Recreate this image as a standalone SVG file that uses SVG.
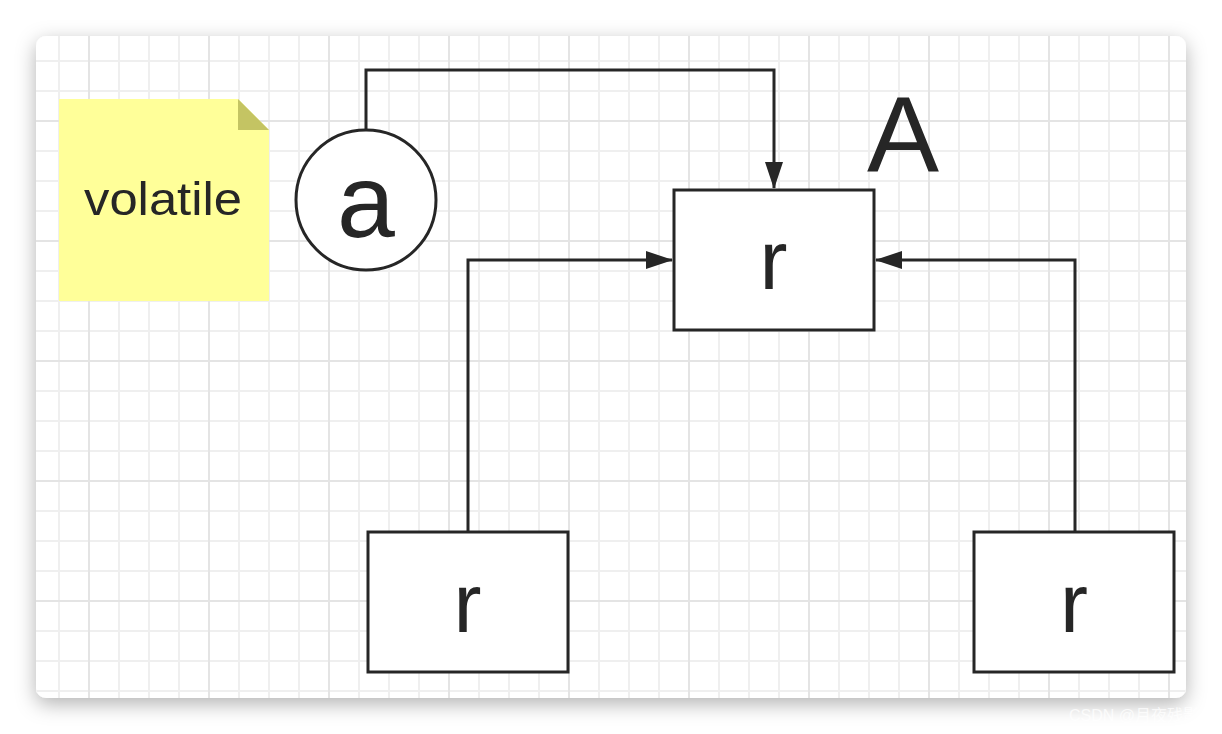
<svg xmlns="http://www.w3.org/2000/svg" width="1222" height="734" viewBox="0 0 1222 734">
  <defs>
    <filter id="shadow" x="-10%" y="-10%" width="120%" height="130%">
      <feDropShadow dx="0" dy="6" stdDeviation="10" flood-color="#000" flood-opacity="0.3"/>
    </filter>
    <clipPath id="cardClip">
      <rect x="36" y="36" width="1150" height="662" rx="10"/>
    </clipPath>
    <pattern id="minor" x="44" y="-14" width="30" height="30" patternUnits="userSpaceOnUse">
      <path d="M15 0 V30 M0 15 H30" fill="none" stroke="#efefef" stroke-width="2"/>
    </pattern>
    <pattern id="major" x="29" y="61" width="120" height="120" patternUnits="userSpaceOnUse">
      <path d="M60 0 V120 M0 60 H120" fill="none" stroke="#e4e4e4" stroke-width="2"/>
    </pattern>
    <marker id="arrow" markerUnits="userSpaceOnUse" markerWidth="28" markerHeight="20" viewBox="0 0 28 20" refX="26" refY="10" orient="auto">
      <path d="M0 1 L27 10 L0 19 Z" fill="#262626"/>
    </marker>
    <style>
      .box { fill: #ffffff; stroke: #262626; stroke-width: 3; }
      .conn { fill: none; stroke: #262626; stroke-width: 3; }
      .lbl { font-family: "Liberation Sans", Arial, sans-serif; fill: #262626; text-anchor: middle; }
      .r { font-size: 84px; }
    </style>
  </defs>

  <rect width="1222" height="734" fill="#ffffff"/>
  <rect x="36" y="36" width="1150" height="662" rx="10" fill="#ffffff" filter="url(#shadow)"/>
  <g clip-path="url(#cardClip)">
    <rect x="36" y="36" width="1150" height="662" fill="url(#minor)"/>
    <rect x="36" y="36" width="1150" height="662" fill="url(#major)"/>
  </g>

  <g id="note">
    <path d="M59 99 H238 L269 130 V301 H59 Z" fill="#ffff99"/>
    <path d="M238 99 L269 130 H238 Z" fill="#c4c463"/>
    <text class="lbl" x="163" y="215" font-size="47" textLength="158" lengthAdjust="spacingAndGlyphs">volatile</text>
  </g>

  <g id="connectors">
    <path class="conn" d="M366 130 V70 H774 V188" marker-end="url(#arrow)"/>
    <path class="conn" d="M468 532 V260 H672" marker-end="url(#arrow)"/>
    <path class="conn" d="M1075 532 V260 H876" marker-end="url(#arrow)"/>
  </g>

  <g id="node-a">
    <circle class="box" cx="366" cy="200" r="70"/>
    <text class="lbl" x="366" y="237" font-size="104">a</text>
  </g>

  <g id="label-A">
    <text class="lbl" x="903" y="172" font-size="108">A</text>
  </g>

  <g id="node-r-top">
    <rect class="box" x="674" y="190" width="200" height="140"/>
    <text class="lbl r" x="773.5" y="289">r</text>
  </g>

  <g id="node-r-left">
    <rect class="box" x="368" y="532" width="200" height="140"/>
    <text class="lbl r" x="467.5" y="632">r</text>
  </g>

  <g id="node-r-right">
    <rect class="box" x="974" y="532" width="200" height="140"/>
    <text class="lbl r" x="1074" y="632">r</text>
  </g>

  <text x="1069" y="721" font-family="Liberation Sans, 'Noto Sans CJK SC', sans-serif" font-size="16" fill="#ffffff" fill-opacity="0.75">CSDN @月夜残影</text>
</svg>
